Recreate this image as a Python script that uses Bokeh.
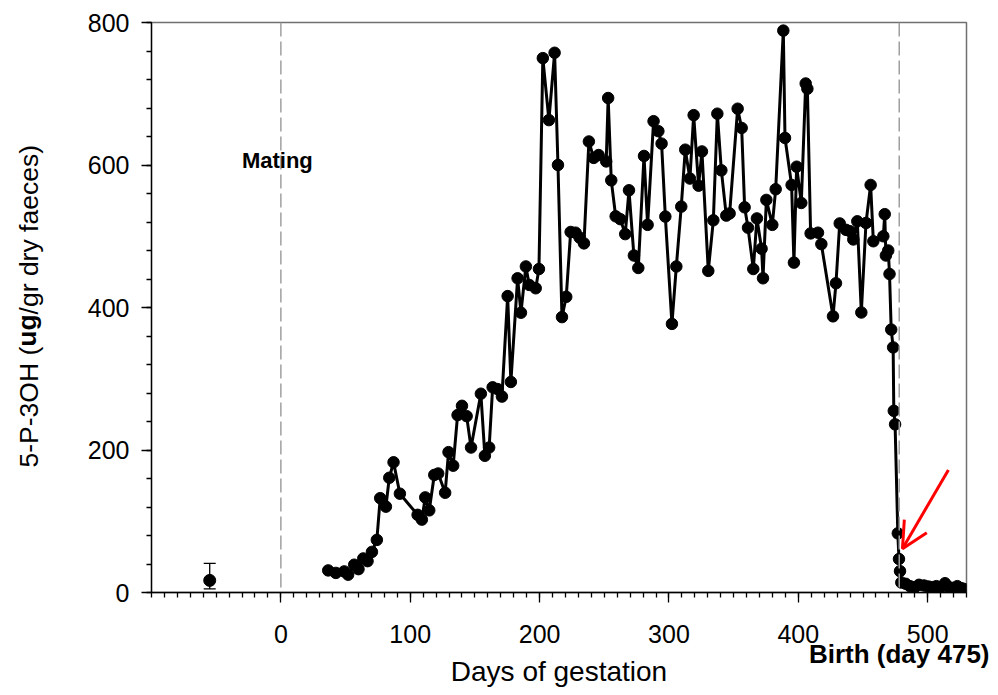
from bokeh.plotting import figure
from bokeh.models import (Range1d, FixedTicker, Span, Label, Arrow, OpenHead,
                          Whisker, TeeHead, ColumnDataSource, LinearAxis)
from bokeh.embed import file_html
from bokeh.resources import INLINE

# ---------------- data ----------------
days = [36.6, 42.5, 49, 52, 56.7, 60, 63.7, 67, 70.4, 74.2,
        76.8, 81.2, 83.8, 87.1, 92, 105.7, 109, 111.6, 114.7, 118.6,
        121.6, 127, 129.6, 133.2, 136.6, 140, 143.6, 147, 154.6, 157.7,
        161, 163.7, 167.5, 170.9, 175.3, 177.8, 183, 185.6, 189.4, 192,
        197, 199.5, 202.5, 207.2, 211.6, 214.2, 217.3, 220.6, 224, 227.8,
        231, 234.3, 238.1, 241.8, 245.6, 251.5, 253, 255.4, 258.8, 262.4,
        266.2, 269.1, 272.9, 276.3, 280.7, 283.5, 288.1, 291.8, 294.3, 297.2,
        302.3, 305.7, 309.5, 312.6, 316.2, 319.1, 322.9, 325.5, 330.4, 334.3,
        337.4, 340.5, 344.3, 346.9, 353.1, 356.2, 358.5, 361.1, 365.2, 368,
        371.6, 372.7, 375.3, 379.9, 382.5, 388.4, 389.7, 394.8, 396.6, 398.7,
        402.3, 405.7, 407, 409.5, 415.2, 417.8, 426.8, 429.1, 432, 436.9,
        440, 442.5, 445.6, 448.7, 452.3, 455.9, 458, 465.7, 466.8, 467.7,
        469.5, 470.5, 471.8, 473.3, 473.8, 474.8, 476.9, 477.8, 478.6, 479.6,
        483, 486.3, 490, 493.3, 497.2, 500.5, 503.6, 506.7, 510, 513.4,
        516.5, 519.6, 522.9, 526.3, 528.6]

conc = [31, 27.5, 29.6, 25, 39, 32.8, 47.8, 44, 57, 73.8,
        132.4, 120.5, 161, 182.8, 138.7, 109, 102.3, 133.5, 115.3, 165,
        167, 140, 197, 178, 249, 262, 247.5, 203.5, 279, 191.9,
        203.5, 288, 285.5, 275, 416, 295.5, 441, 392.7, 457.6, 431.7,
        427, 454, 750, 663, 757.5, 600, 386.5, 415, 506, 505,
        498, 490, 633, 610, 614, 605, 694, 578.5, 528, 524,
        503, 564.5, 473, 455.5, 612.7, 516, 661.5, 647.5, 630, 527.6,
        377, 457.6, 541.6, 621.5, 581, 670, 571, 619, 451.4, 522.4,
        672, 592.5, 529, 532, 679, 652, 540.6, 512, 454, 525,
        482.5, 441, 551, 516, 566, 788.6, 638, 572, 463, 597.6,
        546.7, 714.4, 707, 504, 505, 489, 387.6, 434, 518, 509,
        507, 495.5, 521, 393, 518.6, 572, 493, 500, 531, 473,
        480, 447, 369, 344, 255, 236, 83, 47, 30, 14,
        12.2, 8.9, 7.5, 10.8, 9.8, 8.4, 7.5, 8.9, 7.5, 13,
        7.5, 6.5, 8.9, 6, 4.7]

pre_day = [-55]
pre_mean = [17]
pre_low = [5]
pre_high = [41]

x_ticks = [0, 100, 200, 300, 400, 500]
y_ticks = [0, 200, 400, 600, 800]
mating_day = 0
birth_line_day = 478
birth_text = "Birth (day 475)"
birth_text_pos = 478
y_title_parts = ["5-P-3OH (", "ug", "/gr dry faeces)"]
y_title_em = [4.556, 1.222, 6.391]   # Arial advance widths (em) of the three pieces

# ---------------- layout constants ----------------
FONT = "Liberation Sans"
TICK_FS = 25
YT_FS = 26.5
X0, X1 = -100, 530
Y0, Y1 = 0, 800
PX_PER_Y = 570 / (Y1 - Y0)
YT_START = 175.4          # data-y where the rotated y title begins

p = figure(width=990, height=694, x_range=Range1d(X0, X1), y_range=Range1d(Y0, Y1),
           output_backend="svg", toolbar_location=None,
           min_border_left=151, min_border_right=24, min_border_top=22, min_border_bottom=102)
p.xgrid.visible = False
p.ygrid.visible = False
p.outline_line_color = "#707070"
p.outline_line_width = 1.5
p.background_fill_color = "white"
p.border_fill_color = "white"

for ax in (p.xaxis[0], p.yaxis[0]):
    ax.axis_line_color = "black"
    ax.axis_line_width = 1.3
    ax.major_tick_line_color = "black"
    ax.minor_tick_line_color = "black"
    ax.major_tick_line_width = 1.3
    ax.minor_tick_line_width = 1.3
    ax.major_tick_in = 0
    ax.major_tick_out = 10
    ax.minor_tick_in = 0
    ax.minor_tick_out = 5
    ax.major_label_text_font = FONT
    ax.major_label_text_font_size = f"{TICK_FS}px"
    ax.major_label_text_color = "black"

p.xaxis.ticker = FixedTicker(ticks=x_ticks, minor_ticks=list(range(X0, X1 + 1, 10)))
p.yaxis.ticker = FixedTicker(ticks=y_ticks, minor_ticks=list(range(Y0, Y1 + 1, 40)))
p.xaxis.major_label_standoff = 22
p.yaxis.major_label_standoff = 12

# second, line-less axis below carrying the birth note and the x title
birth_axis = LinearAxis(
    ticker=FixedTicker(ticks=[birth_text_pos], minor_ticks=[]),
    major_label_overrides={birth_text_pos: birth_text},
    axis_line_color=None, major_tick_line_color=None, minor_tick_line_color=None,
    major_tick_out=0, major_tick_in=0, minor_tick_out=0, minor_tick_in=0,
    major_label_standoff=-7,
    major_label_text_font=FONT, major_label_text_font_style="bold",
    major_label_text_font_size="26px", major_label_text_color="black",
    axis_label="Days of gestation", axis_label_standoff=-16,
    axis_label_text_font=FONT, axis_label_text_font_size="28px",
    axis_label_text_font_style="normal", axis_label_text_color="black")
p.add_layout(birth_axis, "below")

# y title with a bold "ug": pieces carried by two line-less left axes
centers = []
acc = YT_START
for em in y_title_em:
    w = em * YT_FS / PX_PER_Y
    centers.append(round(acc + w / 2, 2))
    acc += w


def title_axis(ticks, texts, style, standoff):
    return LinearAxis(
        ticker=FixedTicker(ticks=ticks, minor_ticks=[]),
        major_label_overrides={t: s for t, s in zip(ticks, texts)},
        major_label_orientation="vertical",
        axis_line_color=None, major_tick_line_color=None, minor_tick_line_color=None,
        major_tick_out=0, major_tick_in=0, minor_tick_out=0, minor_tick_in=0,
        major_label_standoff=standoff,
        major_label_text_font=FONT, major_label_text_font_style=style,
        major_label_text_font_size=f"{YT_FS}px", major_label_text_color="black")


p.add_layout(title_axis([centers[0], centers[2]], [y_title_parts[0], y_title_parts[2]],
                        "normal", 40), "left")
p.add_layout(title_axis([centers[1]], [y_title_parts[1]], "bold", -31), "left")

# vertical reference lines
for loc in (mating_day, birth_line_day):
    p.add_layout(Span(location=loc, dimension="height", line_color="#a0a0a0",
                      line_width=1.5, line_dash="14 5"))

# data
p.line(days, conc, line_color="black", line_width=3)
p.scatter(days, conc, size=11.5, color="black")

# pre-mating point with error bar
src = ColumnDataSource(dict(x=pre_day, y=pre_mean, lo=pre_low, hi=pre_high))
p.add_layout(Whisker(source=src, base="x", lower="lo", upper="hi", dimension="height",
                     line_color="black", line_width=1.3,
                     upper_head=TeeHead(size=12, line_color="black", line_width=1.3),
                     lower_head=TeeHead(size=12, line_color="black", line_width=1.3)))
p.scatter("x", "y", source=src, size=12, color="black")

# annotations
p.add_layout(Label(x=-2.7, y=607, text="Mating", text_align="center",
                   text_baseline="alphabetic", text_font=FONT, text_font_style="bold",
                   text_font_size="22px", text_color="black"))
p.add_layout(Arrow(end=OpenHead(line_color="red", line_width=3, size=26),
                   x_start=516, y_start=172, x_end=480.5, y_end=61.5,
                   line_color="red", line_width=3))

open("out.html", "w").write(file_html(p, INLINE))
